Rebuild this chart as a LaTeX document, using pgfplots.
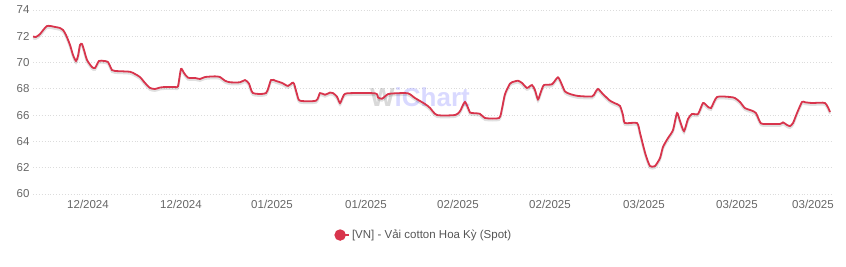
\documentclass[border=0pt]{standalone}
\usepackage{fontspec}
\setmainfont{Liberation Sans}
\usepackage{pgfplots}
\usepackage{pgfplotstable}
\pgfplotsset{compat=1.18}
\definecolor{linered}{HTML}{D8344C}
\definecolor{gridc}{HTML}{DCDCDC}
\definecolor{ticklab}{HTML}{666666}
\definecolor{legtext}{HTML}{555555}
\pgfplotstableread{
x y
33 71.98
36 71.95
40 72.17
47 72.78
55 72.71
60 72.63
63 72.48
66 72.10
70 71.34
73 70.58
76 70.12
78 70.50
80 71.34
82 71.41
84 70.96
87 70.20
92 69.66
95 69.59
99 70.12
104 70.12
108 70.04
112 69.43
115 69.36
130 69.30
135 69.13
140 68.90
145 68.45
150 68.07
155 67.99
160 68.10
165 68.14
175 68.14
178 68.20
181 69.51
184 69.21
188 68.85
195 68.83
200 68.75
205 68.90
215 68.95
220 68.90
225 68.62
230 68.50
240 68.50
245 68.67
249 68.40
253 67.68
266 67.68
271 68.67
276 68.60
282 68.45
288 68.22
292 68.45
294 68.40
297 67.60
300 67.10
316 67.10
320 67.68
325 67.55
330 67.72
333 67.68
337 67.40
340 66.92
343 67.40
347 67.66
375 67.66
378 67.35
382 67.25
388 67.60
395 67.66
408 67.66
415 67.30
425 66.85
430 66.55
437 66.01
455 66.01
460 66.30
465 67.00
470 66.20
472 66.16
480 66.10
485 65.78
499 65.78
502 66.50
505 67.60
510 68.40
514 68.55
518 68.62
522 68.45
527 68.07
532 68.29
535 67.90
538 67.20
541 67.80
544 68.29
552 68.35
558 68.88
562 68.30
565 67.80
570 67.61
578 67.46
592 67.42
595 67.70
598 67.99
603 67.60
610 67.10
615 66.90
620 66.70
623 66.00
625 65.40
637 65.40
640 64.64
643 63.73
646 62.90
650 62.13
655 62.13
660 62.74
663 63.58
668 64.26
673 64.87
677 66.16
680 65.55
684 64.79
688 65.71
692 66.09
698 66.09
703 66.92
707 66.70
711 66.54
717 67.38
730 67.38
735 67.30
740 67.00
745 66.54
752 66.34
756 66.15
760 65.48
763 65.33
780 65.33
783 65.45
787 65.25
790 65.17
793 65.40
797 66.16
802 67.00
805 66.98
812 66.92
825 66.92
830 66.24
}\spotdata
\begin{document}
\begin{tikzpicture}
\useasboundingbox (-33pt,-73pt) rectangle (813pt,194pt);
\begin{axis}[
  scale only axis,
  width=799pt, height=184pt,
  xmin=33, xmax=832, ymin=60, ymax=74,
  axis line style={draw=none},
  major tick length=0pt,
  ytick={60,62,...,74},
  xtick={88,181,272,366,458,550,644,737,813},
  xticklabels={12/2024,12/2024,01/2025,01/2025,02/2025,02/2025,03/2025,03/2025,03/2025},
  ymajorgrids,
  major grid style={draw=gridc, line width=0.9pt, dotted},
  /pgf/number format/assume math mode=true,
  tick label style={font=\fontsize{11.5}{13}\selectfont, text=ticklab},
  xticklabel style={yshift=-3pt},
  legend style={at={(0.489,-0.223)}, anchor=center, draw=none, fill=none,
    font=\fontsize{11.5}{13}\selectfont, text=legtext, legend columns=1},
  legend image code/.code={\fill[linered] (0pt,0pt) circle (4.8pt); \path (-5pt,0pt) -- (9pt,0pt);},
  clip=false,
]
\node[opacity=0.25, font=\bfseries\fontsize{26}{28}\selectfont] at (axis cs:420,67.35)
  {\textcolor{gray!80!black}{W}\textcolor{blue!60}{iChart}};
\addplot[forget plot, draw=black, opacity=0.12, line width=2.2pt, smooth, tension=0.4,
  transform canvas={yshift=-1.8pt}] table {\spotdata};
\addplot[draw=linered, line width=1.8pt, smooth, tension=0.4] table {\spotdata};
\addlegendentry{[VN] - Vải cotton Hoa Kỳ (Spot)}
\end{axis}
\end{tikzpicture}
\end{document}
